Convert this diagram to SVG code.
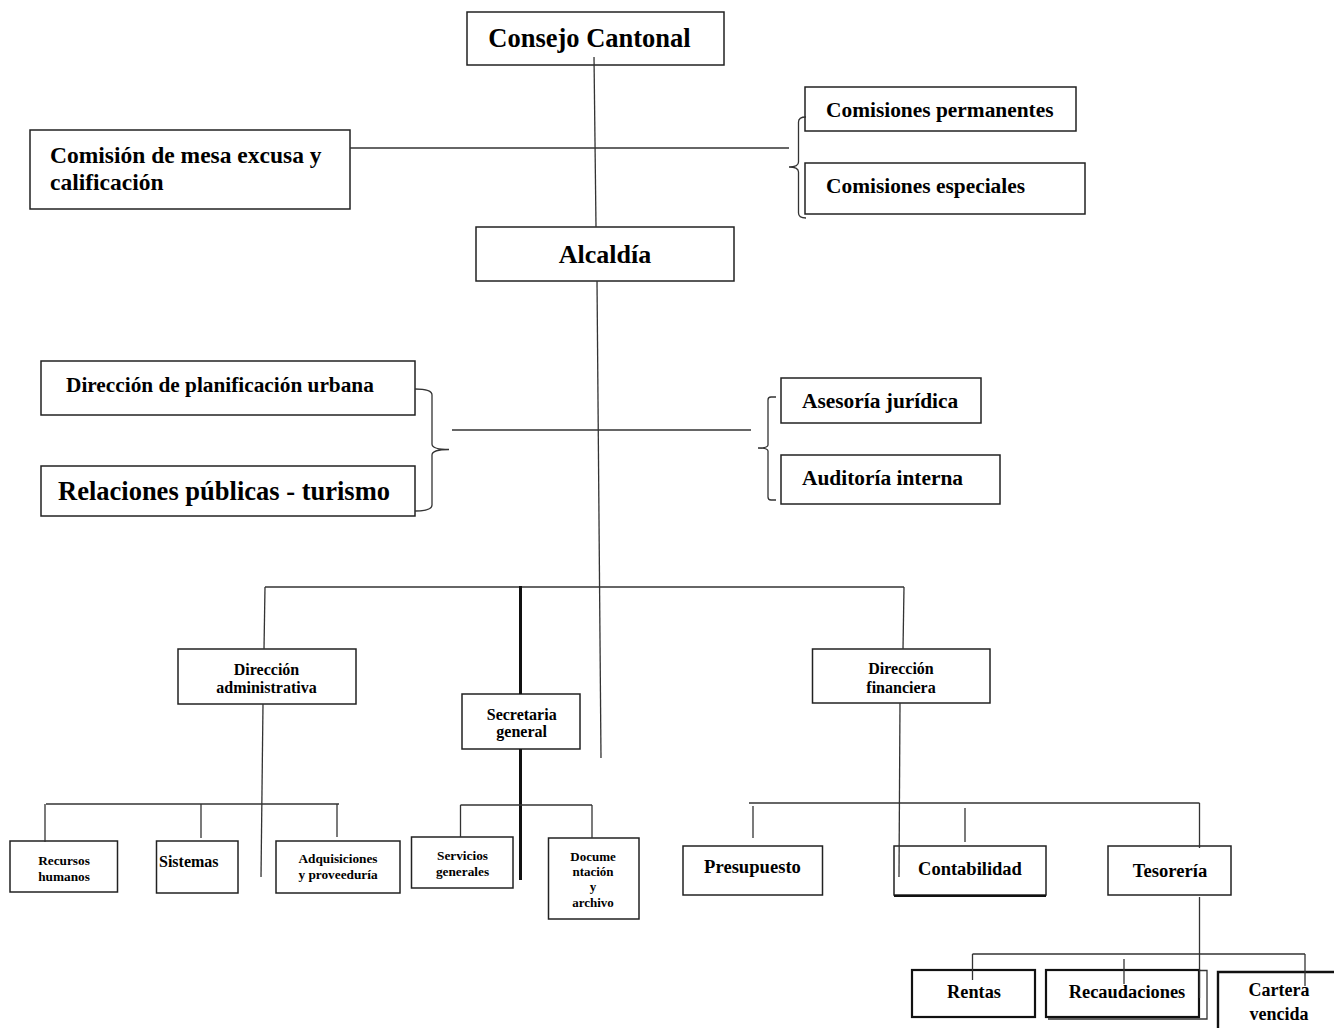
<svg xmlns="http://www.w3.org/2000/svg" width="1334" height="1028" viewBox="0 0 1334 1028">
<style>
.box{fill:#fff;stroke:#222;stroke-width:1.5}
.tbox{fill:#fff;stroke:#111;stroke-width:2.2}
.ln{fill:none;stroke:#333;stroke-width:1.3}
.thick{fill:none;stroke:#111;stroke-width:3}
text{font-family:"Liberation Serif","Times New Roman",serif;font-weight:bold;fill:#000}
.c{text-anchor:middle}
</style>
<rect width="1334" height="1028" fill="#fff"/>
<g id="nodes">
<g id="consejo"><rect class="box" x="467" y="12" width="257" height="53"/><text class="c" x="589.5" y="47" font-size="26.5">Consejo Cantonal</text></g>
<g id="comision-mesa"><rect class="box" x="30" y="130" width="320" height="79"/><text x="50" y="163" font-size="23.5">Comisión de mesa excusa y</text><text x="50" y="190" font-size="23.5">calificación</text></g>
<g id="alcaldia"><rect class="box" x="476" y="227" width="258" height="54"/><text class="c" x="605" y="263" font-size="26">Alcaldía</text></g>
<g id="com-perm"><rect class="box" x="805" y="87" width="271" height="44"/><text x="826" y="117" font-size="21.4">Comisiones permanentes</text></g>
<g id="com-esp"><rect class="box" x="805" y="163" width="280" height="51"/><text x="826" y="193" font-size="21.4">Comisiones especiales</text></g>
<g id="dir-planif"><rect class="box" x="41" y="361" width="374" height="54"/><text x="66" y="392" font-size="21.3">Dirección de planificación urbana</text></g>
<g id="relaciones"><rect class="box" x="41" y="466" width="374" height="50"/><text x="58" y="500" font-size="26.5">Relaciones públicas - turismo</text></g>
<g id="asesoria"><rect class="box" x="781" y="378" width="200" height="45"/><text x="802" y="408" font-size="21.4">Asesoría jurídica</text></g>
<g id="auditoria"><rect class="box" x="781" y="455" width="219" height="49"/><text x="802" y="485" font-size="21.4">Auditoría interna</text></g>
<g id="dir-admin"><rect class="box" x="178" y="649" width="178" height="55"/><text class="c" x="266.5" y="675" font-size="16">Dirección</text><text class="c" x="266.5" y="693" font-size="16">administrativa</text></g>
<g id="secretaria"><rect class="box" x="462" y="694" width="118" height="55"/><text class="c" x="521.7" y="720" font-size="16">Secretaria</text><text class="c" x="521.7" y="737" font-size="16">general</text></g>
<g id="recursos"><rect class="box" x="10" y="841" width="107.5" height="51"/><text class="c" x="64" y="865" font-size="13.3">Recursos</text><text class="c" x="64" y="881" font-size="13.3">humanos</text></g>
<g id="sistemas"><rect class="box" x="156.5" y="841" width="81.5" height="52"/><text x="159" y="866.5" font-size="16">Sistemas</text></g>
<g id="adquisiciones"><rect class="box" x="276" y="841" width="124" height="52"/><text class="c" x="338" y="863" font-size="13.3">Adquisiciones</text><text class="c" x="338" y="879" font-size="13.3">y proveeduría</text></g>
<g id="servicios"><rect class="box" x="411.5" y="837" width="101.5" height="51"/><text class="c" x="462.5" y="860" font-size="13.3">Servicios</text><text class="c" x="462.5" y="875.5" font-size="13.3">generales</text></g>
<g id="documentacion"><rect class="box" x="548.5" y="838" width="90.5" height="81"/><text class="c" x="593" y="861" font-size="13">Docume</text><text class="c" x="593" y="876" font-size="13">ntación</text><text class="c" x="593" y="891" font-size="13">y</text><text class="c" x="593" y="906.5" font-size="13">archivo</text></g>
<g id="dir-fin"><rect class="box" x="812.5" y="649" width="177.5" height="54"/><text class="c" x="901" y="673.5" font-size="16">Dirección</text><text class="c" x="901" y="692.5" font-size="16">financiera</text></g>
<g id="presupuesto"><rect class="box" x="683" y="846" width="139.5" height="49"/><text class="c" x="752.5" y="872.7" font-size="18.6">Presupuesto</text></g>
<g id="contabilidad"><rect class="box" x="894" y="846" width="152" height="49"/><line x1="894" y1="896" x2="1046" y2="896" stroke="#111" stroke-width="2"/><text class="c" x="970" y="875" font-size="18.5">Contabilidad</text></g>
<g id="tesoreria"><rect class="box" x="1108" y="846" width="123" height="49"/><text class="c" x="1170" y="877" font-size="18.6">Tesorería</text></g>
<g id="rentas"><rect class="tbox" x="912" y="970" width="123" height="47"/><text class="c" x="974" y="998" font-size="18.3">Rentas</text></g>
<g id="recaudaciones"><path class="ln" d="M1199,970.5 H1207 V1019 H1048"/><rect class="tbox" x="1046" y="970" width="153" height="47"/><text class="c" x="1127" y="998" font-size="18.4">Recaudaciones</text></g>
<g id="cartera"><path d="M1218,1028 V972 H1334" fill="none" stroke="#111" stroke-width="2.4"/><text class="c" x="1279" y="996" font-size="18">Cartera</text><text class="c" x="1279" y="1020" font-size="18">vencida</text></g>
</g>
<g id="connectors">
<line class="ln" x1="594" y1="57" x2="596" y2="227"/>
<line class="ln" x1="350" y1="148" x2="789" y2="148"/>
<path class="ln" d="M806,117 Q798.5,117 798.5,122 V162 Q798.5,167 789,167 Q798.5,167 798.5,172 V213 Q798.5,218 806,218"/>
<line class="ln" x1="597" y1="281" x2="601" y2="758"/>
<path class="ln" d="M415,389 Q432,389 432,395 V444 Q432,449.5 449,449.5 Q432,449.5 432,455 V505 Q432,511 415,511"/>
<line class="ln" x1="452" y1="430" x2="751" y2="430"/>
<path class="ln" d="M776,397 H771 Q768,397 768,400 V445 Q768,448 758,448 Q768,448 768,451 V497 Q768,500 771,500 H776"/>
<line class="ln" x1="265" y1="587" x2="904" y2="587"/>
<line class="ln" x1="265" y1="587" x2="264" y2="649"/>
<line class="ln" x1="904" y1="587" x2="903" y2="649"/>
<line class="thick" x1="520.5" y1="586" x2="520.5" y2="694"/>
<line class="thick" x1="520.5" y1="749" x2="520.5" y2="880"/>
<line class="ln" x1="263" y1="704" x2="261" y2="877"/>
<line class="ln" x1="46" y1="804" x2="339" y2="804"/>
<line class="ln" x1="45" y1="804" x2="45" y2="842"/>
<line class="ln" x1="201" y1="804" x2="201" y2="838"/>
<line class="ln" x1="337" y1="804" x2="337" y2="837"/>
<line class="ln" x1="460.5" y1="805" x2="592" y2="805"/>
<line class="ln" x1="460.5" y1="805" x2="460.5" y2="837"/>
<line class="ln" x1="592" y1="805" x2="592" y2="838"/>
<line class="ln" x1="900" y1="703" x2="899" y2="877"/>
<line class="ln" x1="749" y1="803" x2="1199.5" y2="803"/>
<line class="ln" x1="753" y1="806" x2="753" y2="838"/>
<line class="ln" x1="965" y1="808" x2="965" y2="842"/>
<line class="ln" x1="1199.5" y1="803" x2="1199.5" y2="848"/>
<line class="ln" x1="1199.5" y1="897" x2="1199.5" y2="998"/>
<line class="ln" x1="972.5" y1="954" x2="1305" y2="954"/>
<line class="ln" x1="972.5" y1="954" x2="972.5" y2="980"/>
<line class="ln" x1="1124" y1="959" x2="1124" y2="984"/>
<line class="ln" x1="1305" y1="954" x2="1305" y2="986"/>
</g>
</svg>
